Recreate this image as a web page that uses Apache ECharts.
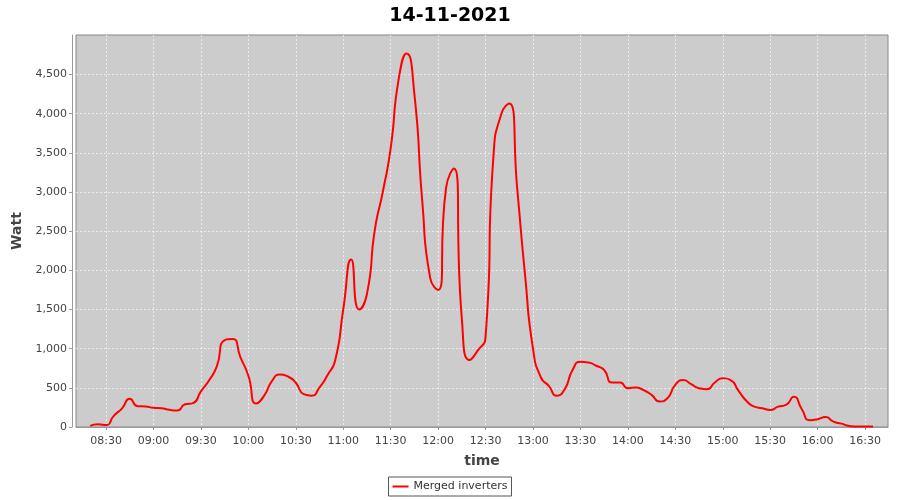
<!DOCTYPE html>
<html>
<head>
<meta charset="utf-8">
<script src="https://cdn.jsdelivr.net/npm/echarts@6/dist/echarts.min.js"></script>
<style>
  html, body { margin: 0; padding: 0; background: #fff; }
  #chart { width: 900px; height: 500px; }
</style>
</head>
<body>
<div id="chart"></div>
<script>
// readings every 5 minutes
var times = ['08:20','08:25','08:30','08:35','08:40','08:45','08:50','08:55',
  '09:00','09:05','09:10','09:15','09:20','09:25','09:30','09:35','09:40','09:45','09:50','09:55',
  '10:00','10:05','10:10','10:15','10:20','10:25','10:30','10:35','10:40','10:45','10:50','10:55',
  '11:00','11:05','11:10','11:15','11:20','11:25','11:30','11:35','11:40','11:45','11:50','11:55',
  '12:00','12:05','12:10','12:15','12:20','12:25','12:30','12:35','12:40','12:45','12:50','12:55',
  '13:00','13:05','13:10','13:15','13:20','13:25','13:30','13:35','13:40','13:45','13:50','13:55',
  '14:00','14:05','14:10','14:15','14:20','14:25','14:30','14:35','14:40','14:45','14:50','14:55',
  '15:00','15:05','15:10','15:15','15:20','15:25','15:30','15:35','15:40','15:45','15:50','15:55',
  '16:00','16:05','16:10','16:15','16:20','16:25','16:30','16:35'];

var watt = [15,35,25,145,235,360,265,262,
  245,240,220,210,290,305,455,590,770,1110,1125,890,
  655,300,400,590,670,645,565,420,400,505,660,860,
  1500,2140,1500,1700,2520,3000,3560,4436,4770,4250,2876,1900,
  1750,3050,3300,1381,855,975,1150,3460,4000,4130,3047,1936,
  1000,632,526,400,480,727,833,824,782,727,568,568,
  496,504,470,410,325,368,538,599,547,496,483,568,
  624,599,462,333,260,240,218,260,282,385,227,86,
  99,128,68,43,13,5,5,5];

var timeTicks = ['08:30','09:00','09:30','10:00','10:30','11:00','11:30','12:00','12:30',
  '13:00','13:30','14:00','14:30','15:00','15:30','16:00','16:30'];
var wattTicks = [0,500,1000,1500,2000,2500,3000,3500,4000,4500];

function toMin(s){
    var p = s.split(':');
    return parseInt(p[0],10)*60 + parseInt(p[1],10);
}
function fmtMin(v){
    var h = Math.floor(v/60), m = Math.round(v - h*60);
    return (h < 10 ? '0' : '') + h + ':' + (m < 10 ? '0' : '') + m;
}

var points = [];
for (var i = 0; i < times.length; i++) {
    points.push([toMin(times[i]), watt[i]]);
}
var xTicks = timeTicks.map(toMin);

var font = 'DejaVu Sans';
var chart = echarts.init(document.getElementById('chart'), null, {renderer: 'canvas'});

var option = {
    backgroundColor: '#ffffff',
    animation: false,
    title: {
        text: '14-11-2021',
        left: 'center',
        top: 2,
        textStyle: {fontFamily: font, fontSize: 19, fontWeight: 'bold', color: '#000'}
    },
    legend: {
        data: ['Merged inverters'],
        left: 'center',
        top: 477,
        padding: [4, 4],
        borderColor: '#555',
        borderWidth: 1,
        icon: 'rect',
        itemWidth: 16,
        itemHeight: 2,
        itemGap: 4,
        textStyle: {fontFamily: font, fontSize: 11, color: '#333'}
    },
    grid: {
        left: 76, right: 12, top: 35, bottom: 73,
        show: true,
        backgroundColor: '#cccccc',
        borderColor: '#888',
        borderWidth: 1
    },
    xAxis: {
        type: 'value',
        min: 491,
        max: 1004.5,
        offset: 4,
        name: 'time',
        nameLocation: 'middle',
        nameGap: 23,
        nameTextStyle: {fontFamily: font, fontSize: 14, fontWeight: 'bold', color: '#444'},
        axisLine: {show: true, lineStyle: {color: '#999', width: 1}},
        axisTick: {show: true, length: 3, customValues: xTicks, lineStyle: {color: '#999'}},
        axisLabel: {
            customValues: xTicks,
            fontFamily: font, fontSize: 11, color: '#444', margin: 5,
            formatter: function (v) { return fmtMin(v); }
        },
        splitLine: {show: true, lineStyle: {color: '#ffffff', type: [2, 2], width: 0.6}}
    },
    yAxis: {
        type: 'value',
        min: 0,
        max: 5005,
        offset: 4,
        name: 'Watt',
        nameLocation: 'middle',
        nameGap: 41,
        nameRotate: 90,
        nameTextStyle: {fontFamily: font, fontSize: 14, fontWeight: 'bold', color: '#444'},
        axisLine: {show: true, lineStyle: {color: '#999', width: 1}},
        axisTick: {show: true, length: 3, customValues: wattTicks, lineStyle: {color: '#999'}},
        axisLabel: {
            customValues: wattTicks,
            fontFamily: font, fontSize: 11, color: '#444', margin: 5,
            formatter: function (v) { return v.toLocaleString('en-US'); }
        },
        splitLine: {show: true, lineStyle: {color: '#ffffff', type: [2, 2], width: 0.6}}
    },
    series: [{
        name: 'Merged inverters',
        type: 'line',
        data: points,
        smooth: 0.6,
        showSymbol: false,
        itemStyle: {color: '#ff0000'},
        lineStyle: {color: '#ff0000', width: 2}
    }]
};

chart.setOption(option);
</script>
</body>
</html>
